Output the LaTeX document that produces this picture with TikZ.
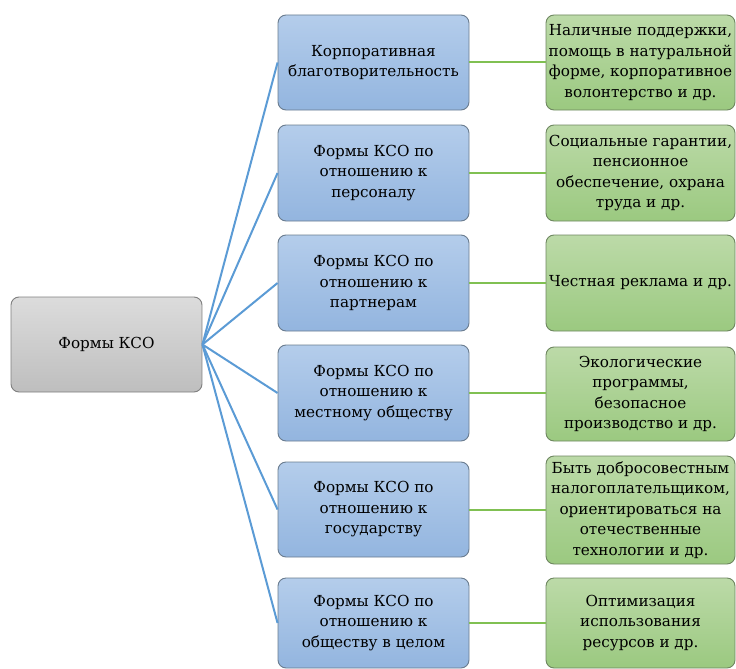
\documentclass[tikz,border=0pt]{standalone}
\usepackage{fontspec}
\newfontfamily\ruserif{DejaVu Serif}
\def\rusize{\fontsize{15.2}{20.5}\selectfont}
\definecolor{bluetop}{HTML}{B4CDEB}
\definecolor{bluebot}{HTML}{93B5DF}
\definecolor{blueedge}{HTML}{6A7C8F}
\definecolor{greentop}{HTML}{BCDAA8}
\definecolor{greenbot}{HTML}{9BC980}
\definecolor{greenedge}{HTML}{6E8660}
\definecolor{graytop}{HTML}{DCDCDC}
\definecolor{graybot}{HTML}{BEBEBE}
\definecolor{grayedge}{HTML}{7F7F7F}
\definecolor{blueline}{HTML}{5B9BD5}
\definecolor{greenline}{HTML}{80C052}
\begin{document}
\begin{tikzpicture}[x=1pt,y=-1pt,
  basebox/.style={rounded corners=8pt, line width=0.9pt, align=center, inner sep=0pt,
    font=\ruserif\rusize, shading angle=0},
  midbox/.style={basebox, draw=blueedge, top color=bluetop, bottom color=bluebot, minimum width=191pt},
  rightbox/.style={basebox, draw=greenedge, top color=greentop, bottom color=greenbot, minimum width=189pt},
  rootbox/.style={basebox, draw=grayedge, top color=graytop, bottom color=graybot, minimum width=191pt},
  bluecon/.style={draw=blueline, line width=2pt},
  greencon/.style={draw=greenline, line width=2pt}]
\useasboundingbox (0,0) rectangle (736,669);

\node[rootbox, minimum height=95pt] (root) at (106.5,344.5) {Формы КСО};

\node[midbox, minimum height=95pt] (m1) at (373.5,62.5) {Корпоративная\\благотворительность};
\node[midbox, minimum height=96pt] (m2) at (373.5,173) {Формы КСО по\\отношению к\\персоналу};
\node[midbox, minimum height=96pt] (m3) at (373.5,283) {Формы КСО по\\отношению к\\партнерам};
\node[midbox, minimum height=96pt] (m4) at (373.5,393) {Формы КСО по\\отношению к\\местному обществу};
\node[midbox, minimum height=95pt] (m5) at (373.5,509.5) {Формы КСО по\\отношению к\\государству};
\node[midbox, minimum height=90pt] (m6) at (373.5,623) {Формы КСО по\\отношению к\\обществу в целом};

\node[rightbox, minimum height=95pt] (r1) at (640.5,62.5) {Наличные поддержки,\\помощь в натуральной\\форме, корпоративное\\волонтерство и др.};
\node[rightbox, minimum height=96pt] (r2) at (640.5,173) {Социальные гарантии,\\пенсионное\\обеспечение, охрана\\труда и др.};
\node[rightbox, minimum height=96pt] (r3) at (640.5,283) {Честная реклама и др.};
\node[rightbox, minimum height=94pt] (r4) at (640.5,394) {Экологические\\программы,\\безопасное\\производство и др.};
\node[rightbox, minimum height=108pt] (r5) at (640.5,510) {Быть добросовестным\\налогоплательщиком,\\ориентироваться на\\отечественные\\технологии и др.};
\node[rightbox, minimum height=90pt] (r6) at (640.5,623) {Оптимизация\\использования\\ресурсов и др.};

\foreach \i in {1,...,6} {
  \draw[bluecon] (root.east) -- (m\i.west);
  \draw[greencon] (m\i.east) -- (m\i.east -| r\i.west);
}
\end{tikzpicture}
\end{document}
